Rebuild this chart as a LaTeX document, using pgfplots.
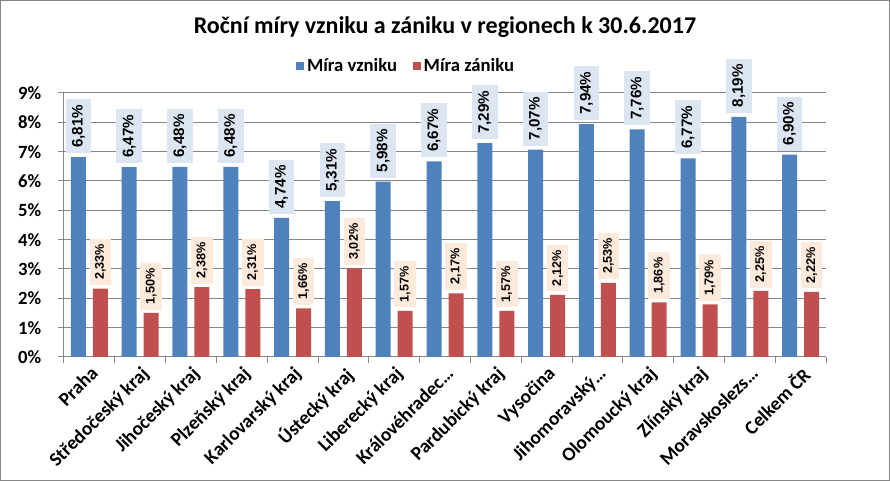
\documentclass[border=0pt]{standalone}
\usepackage{pgfplots}
\pgfplotsset{compat=1.18}
\usepackage{fontspec}
\setmainfont{Carlito}
\newfontfamily\lab{Liberation Sans}
\definecolor{cblue}{HTML}{4F81BD}
\definecolor{cred}{HTML}{C0504D}
\definecolor{lblue}{HTML}{DCE6F2}
\definecolor{lred}{HTML}{FDEADA}
\definecolor{gridc}{HTML}{868686}
\begin{document}
\begin{tikzpicture}
\begin{axis}[
  scale only axis, width=571.5pt, height=198pt,
  ybar=5.25pt, bar width=11.25pt,
  xmin=-0.5, xmax=14.5, ymin=0, ymax=9,
  xtick={-0.5,0.5,...,14.5},
  x tick label as interval,
  xticklabels={Praha,Středočeský kraj,Jihočeský kraj,Plzeňský kraj,Karlovarský kraj,Ústecký kraj,Liberecký kraj,Královéhradec…,Pardubický kraj,Vysočina,Jihomoravský…,Olomoucký kraj,Zlínský kraj,Moravskoslezs…,Celkem ČR},
  xticklabel style={rotate=45, anchor=north east, font=\fontsize{14.5}{14.5}\selectfont\bfseries, inner sep=1pt},
  ytick={0,...,9},
  yticklabel={\pgfmathprintnumber{\tick}\%},
  yticklabel style={font=\fontsize{14}{14}\selectfont\bfseries, xshift=-9pt},
  /pgf/number format/assume math mode=true,
  tick align=outside, major tick length=4.5pt,
  tick style={gridc, line width=0.75pt},
  axis x line*=bottom, axis y line*=left,
  axis line style={gridc, line width=0.75pt},
  ymajorgrids, major grid style={gridc, line width=0.75pt},
  legend style={at={(0.4495,1.102)}, anchor=center, draw=none, fill=none,
    legend columns=2, font=\fontsize{14}{14}\selectfont\bfseries,
    /tikz/every even column/.append style={column sep=10pt}},
  legend image code/.code={\fill[#1] (0pt,-3pt) rectangle (6pt,3pt);},
  clip=false,
]
\addplot[fill=cblue, draw=none,
  nodes near coords={\lab\fontsize{9.5}{9.5}\selectfont\bfseries\pgfmathprintnumber[fixed,fixed zerofill,precision=2,use comma]{\pgfplotspointmeta}\%},
  every node near coord/.append style={rotate=90, scale=1.2, transform shape, anchor=west, fill=lblue, text=black,
    inner xsep=3.4pt, inner ysep=4pt, outer xsep=2.5pt, outer ysep=0pt}]
  coordinates {(0,6.81) (1,6.47) (2,6.48) (3,6.48) (4,4.74) (5,5.31) (6,5.98) (7,6.67) (8,7.29) (9,7.07) (10,7.94) (11,7.76) (12,6.77) (13,8.19) (14,6.90)};
\addplot[fill=cred, draw=none,
  nodes near coords={\lab\fontsize{9.5}{9.5}\selectfont\bfseries\pgfmathprintnumber[fixed,fixed zerofill,precision=2,use comma]{\pgfplotspointmeta}\%},
  every node near coord/.append style={rotate=90, anchor=west, fill=lred, text=black,
    inner xsep=4pt, inner ysep=4pt, outer xsep=2.6pt, outer ysep=0pt}]
  coordinates {(0,2.33) (1,1.50) (2,2.38) (3,2.31) (4,1.66) (5,3.02) (6,1.57) (7,2.17) (8,1.57) (9,2.12) (10,2.53) (11,1.86) (12,1.79) (13,2.25) (14,2.22)};
\legend{Míra vzniku, Míra zániku}
\coordinate (ll) at (rel axis cs:0,0);
\coordinate (ur) at (rel axis cs:1,1);
\coordinate (tc) at (rel axis cs:0.5,1);
\end{axis}
\node[font=\fontsize{18}{18}\selectfont\bfseries] at ([yshift=49.5pt]tc) {Roční míry vzniku a zániku v regionech k 30.6.2017};
\pgfresetboundingbox
\path[use as bounding box] ([xshift=-48pt,yshift=-93pt]ll) rectangle ([xshift=48pt,yshift=69.75pt]ur);
\draw[gridc, line width=1pt] ([xshift=-47.5pt,yshift=-92.5pt]ll) rectangle ([xshift=47.5pt,yshift=69.25pt]ur);
\end{tikzpicture}
\end{document}
